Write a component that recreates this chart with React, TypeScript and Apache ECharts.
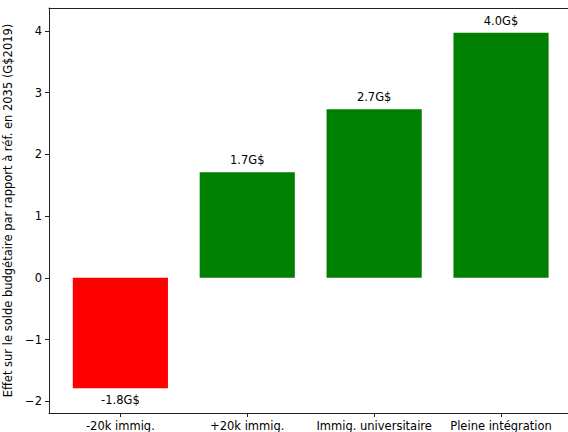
import React, { useEffect, useRef } from "react";
import * as echarts from "echarts";

const categories = ["-20k immig.", "+20k immig.", "Immig. universitaire", "Pleine intégration"];
const values = [-1.79, 1.71, 2.73, 3.97];
const labels = ["-1.8G$", "1.7G$", "2.7G$", "4.0G$"];
const colors = ["#ff0000", "#008000", "#008000", "#008000"];
const yTicks = [-2, -1, 0, 1, 2, 3, 4];
const xTicks = [0, 1, 2, 3];

const FONT = "DejaVu Sans";
const INK = "#000000";
const SPINE = "#222222";

export default function App() {
  const ref = useRef<HTMLDivElement>(null);
  useEffect(() => {
    if (!ref.current) return;
    const chart = echarts.init(ref.current, null, { renderer: "svg" });
    const xMin = -0.5625;
    const xMax = 3.5625;
    const yMin = -2.19;
    const yMax = 4.37;
    chart.setOption({
      animation: false,
      backgroundColor: "#ffffff",
      textStyle: { fontFamily: FONT },
      grid: {
        left: 49,
        top: 8,
        right: -4.4,
        bottom: 19,
        containLabel: false,
        outerBoundsMode: "none",
      },
      xAxis: [
        {
          type: "value",
          min: xMin,
          max: xMax,
          splitLine: { show: false },
          axisLine: { show: true, onZero: false, lineStyle: { color: SPINE, width: 1 } },
          axisTick: { show: true, length: 4, lineStyle: { color: SPINE }, customValues: xTicks },
          axisLabel: {
            show: true,
            customValues: xTicks,
            margin: 7,
            color: INK,
            fontSize: 11.5,
            fontFamily: FONT,
            hideOverlap: false,
            formatter: (v: number) => categories[Math.round(v)] ?? "",
          },
        },
        {
          type: "value",
          position: "top",
          min: xMin,
          max: xMax,
          splitLine: { show: false },
          axisLine: { show: true, onZero: false, lineStyle: { color: SPINE, width: 1 } },
          axisTick: { show: false },
          axisLabel: { show: false },
        },
      ],
      yAxis: [
        {
          type: "value",
          min: yMin,
          max: yMax,
          name: "Effet sur le solde budgétaire par rapport à réf. en 2035 (G$2019)",
          nameLocation: "middle",
          nameGap: 27,
          nameTextStyle: { color: INK, fontSize: 11.5, fontFamily: FONT },
          splitLine: { show: false },
          axisLine: { show: true, onZero: false, lineStyle: { color: SPINE, width: 1 } },
          axisTick: { show: true, length: 4, lineStyle: { color: SPINE }, customValues: yTicks },
          axisLabel: {
            show: true,
            customValues: yTicks,
            margin: 7,
            color: INK,
            fontSize: 11.5,
            fontFamily: FONT,
            formatter: (v: number) => String(v).replace("-", "\u2212"),
          },
        },
        {
          type: "value",
          position: "right",
          min: yMin,
          max: yMax,
          splitLine: { show: false },
          axisLine: { show: true, onZero: false, lineStyle: { color: SPINE, width: 1 } },
          axisTick: { show: false },
          axisLabel: { show: false },
        },
      ],
      series: [
        {
          type: "bar",
          xAxisIndex: 0,
          yAxisIndex: 0,
          barWidth: "75%",
          data: values.map((v, i) => ({
            value: [i, v],
            itemStyle: { color: colors[i] },
            label: {
              show: true,
              position: v < 0 ? "bottom" : "top",
              distance: 6,
              formatter: labels[i],
              color: INK,
              fontSize: 11.5,
              fontFamily: FONT,
            },
          })),
        },
      ],
    });
    return () => chart.dispose();
  }, []);
  return (
    <div
      ref={ref}
      style={{ position: "fixed", left: 0, top: 0, width: 568, height: 432, background: "#fff" }}
    />
  );
}
